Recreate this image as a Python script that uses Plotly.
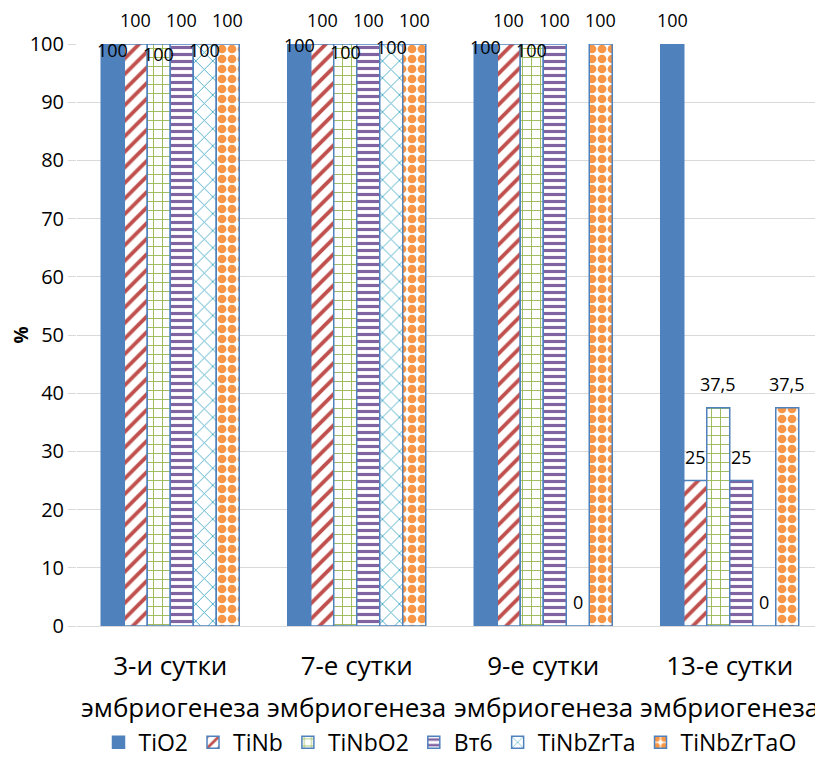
import plotly.graph_objects as go

categories = ["3-и сутки", "7-е сутки", "9-е сутки", "13-е сутки"]
category_sub = ["эмбриогенеза", "эмбриогенеза", "эмбриогенеза", "эмбриогенеза"]
series_names = ["TiO2", "TiNb", "TiNbO2", "Вт6", "TiNbZrTa", "TiNbZrTaO"]
TiO2 = [100, 100, 100, 100]
TiNb = [100, 100, 100, 25]
TiNbO2 = [100, 100, 100, 37.5]
Bt6 = [100, 100, 100, 25]
TiNbZrTa = [100, 100, 0, 0]
TiNbZrTaO = [100, 100, 100, 37.5]
y_ticks = [0, 10, 20, 30, 40, 50, 60, 70, 80, 90, 100]

series_values = [TiO2, TiNb, TiNbO2, Bt6, TiNbZrTa, TiNbZrTaO]

FONT = "Open Sans"
outline = "#4F81BD"
styles = [
    dict(color="#4F81BD", shape="", size=8, solidity=0.5),
    dict(color="#C0504D", shape="/", size=11, solidity=0.35),
    dict(color="#9BBB59", shape="+", size=9, solidity=0.2),
    dict(color="#8064A2", shape="-", size=7, solidity=0.45),
    dict(color="#4BACC6", shape="x", size=12, solidity=0.15),
    dict(color="#F79646", shape=".", size=10, solidity=0.6),
]

fig = go.Figure()
for name, vals, st in zip(series_names, series_values, styles):
    marker = dict(color=st["color"], line=dict(color=outline, width=1.5))
    if st["shape"]:
        marker["pattern"] = dict(shape=st["shape"], fgcolor=st["color"], bgcolor="white",
                                 size=st["size"], solidity=st["solidity"], fillmode="replace")
    fig.add_trace(go.Bar(name=name, x=categories, y=vals, marker=marker))

# data labels (Excel-like staggered placement)
bar_px = 187 * (1 - 0.26) / 6
label_shift = [
    [-6, 24, -10, 24, -6, 24],
    [-1, 24, -8, 24, -3, 24],
    [-3, 24, -6, 24, 24, 24],
    [24, 24, 24, 24, 24, 24],
]
annotations = []
for j, cat in enumerate(categories):
    for i, vals in enumerate(series_values):
        v = vals[j]
        txt = ("%g" % v).replace(".", ",")
        annotations.append(dict(
            x=cat, y=v, xref="x", yref="y", text=txt, showarrow=False,
            xshift=(i - 2.5) * bar_px, yshift=label_shift[j][i],
            font=dict(family=FONT, size=18, color="black"),
        ))
    annotations.append(dict(
        x=cat, y=0, xref="x", yref="y", text=category_sub[j], showarrow=False,
        yshift=-81, font=dict(family=FONT, size=26, color="black"),
    ))

fig.update_layout(
    width=815, height=756,
    margin=dict(l=69, r=0, t=36, b=138),
    paper_bgcolor="white", plot_bgcolor="white",
    barmode="group", bargap=0.26, bargroupgap=0,
    font=dict(family=FONT, color="black"),
    annotations=annotations,
    legend=dict(orientation="h", x=0.5, xanchor="center", y=-0.2, yanchor="middle",
                font=dict(family=FONT, size=23), itemwidth=30, traceorder="normal"),
    showlegend=True,
)
fig.update_xaxes(tickfont=dict(family=FONT, size=26), showline=True, linecolor="#D9D9D9",
                 linewidth=1, ticks="", ticklabelstandoff=17)
fig.update_yaxes(range=[0, 100], tickvals=y_ticks, tickfont=dict(family=FONT, size=20),
                 showgrid=True, gridcolor="#D9D9D9", gridwidth=1, zeroline=False,
                 ticks="outside", ticklen=8, tickcolor="#D9D9D9",
                 title=dict(text="<b>%</b>", font=dict(family=FONT, size=19), standoff=8))

fig.write_html("out.html")
